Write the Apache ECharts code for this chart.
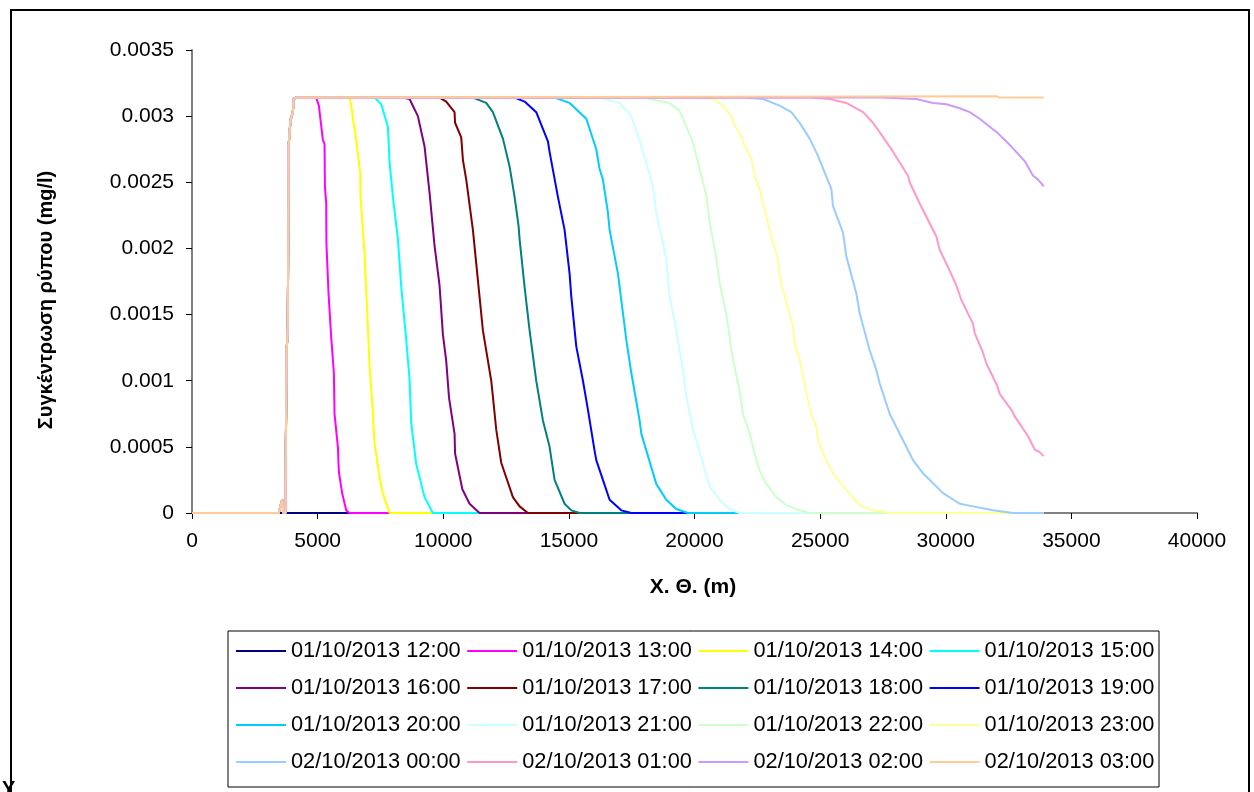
<!DOCTYPE html>
<html>
<head>
<meta charset="utf-8">
<script src="https://cdn.jsdelivr.net/npm/echarts@6/dist/echarts.min.js"></script>
<style>
html,body{margin:0;padding:0;background:#fff;}
#chart{width:1254px;height:792px;}
</style>
</head>
<body>
<div id="chart"></div>
<script>
// ---- Data ----
const seriesNames = [
  "01/10/2013 12:00","01/10/2013 13:00","01/10/2013 14:00","01/10/2013 15:00",
  "01/10/2013 16:00","01/10/2013 17:00","01/10/2013 18:00","01/10/2013 19:00",
  "01/10/2013 20:00","01/10/2013 21:00","01/10/2013 22:00","01/10/2013 23:00",
  "02/10/2013 00:00","02/10/2013 01:00","02/10/2013 02:00","02/10/2013 03:00"
];
const palette = ["#000080","#FF00FF","#FFFF00","#00FFFF","#800080","#800000","#008080","#0000FF",
  "#00CCFF","#CCFFFF","#CCFFCC","#FFFF99","#99CCFF","#FF99CC","#CC99FF","#FFCC99"];

const xEnd = 33900;
// common rising front (x in m, concentration in mg/l)
const leadingEdge = [[0,0],[3450,0],[3590,0.0001],[3640,0],[3720,0],[3760,0.0012],[3814,0.0014],[3842,0.00277],[3921,0.00297],[4013,0.00303],[4053,0.00313],[4148,0.00314]];

const s1200 = [[0,0],[xEnd,0]];
const s1300 = [[4943,0.00314],[5049,0.00308],[5208,0.00282],[5275,0.00279],[5290,0.00247],[5341,0.00234],[5350,0.00204],[5434,0.00166],[5540,0.00133],[5646,0.00106],[5673,0.00075],[5806,0.0005],[5846,0.00031],[5979,0.000147],[6137,0.00002],[6270,0]];
const s1400 = [[6137,0.00314],[6297,0.00313],[6430,0.00295],[6536,0.00282],[6695,0.00257],[6708,0.00239],[6867,0.00196],[7000,0.00141],[7066,0.00111],[7173,0.00083],[7265,0.00053],[7464,0.00027],[7597,0.000147],[7863,0]];
const s1500 = [[7265,0.00314],[7531,0.00309],[7797,0.00292],[7863,0.00265],[7996,0.00239],[8195,0.00207],[8328,0.00171],[8526,0.00131],[8659,0.00101],[8725,0.00068],[8924,0.00037],[9256,0.00012],[9588,0]];
const s1600 = [[8393,0.00314],[8659,0.00313],[8990,0.003],[9256,0.00277],[9455,0.00242],[9654,0.00202],[9853,0.00172],[9986,0.00135],[10118,0.00115],[10230,0.00087],[10450,0.0006],[10470,0.00045],[10760,0.00018],[11047,0.00007],[11445,0]];
const s1700 = [[9588,0.00314],[9853,0.00314],[10118,0.00311],[10450,0.00303],[10470,0.00295],[10716,0.00284],[10782,0.00267],[10915,0.00252],[11180,0.00214],[11379,0.00176],[11578,0.00138],[11910,0.001],[11976,0.00088],[12109,0.00063],[12308,0.00038],[12772,0.00012],[13038,0.00005],[13370,0]];
const s1800 = [[11180,0.00314],[11711,0.0031],[11976,0.00303],[12375,0.00283],[12640,0.00262],[12839,0.00239],[12998,0.00217],[13038,0.00207],[13237,0.00171],[13436,0.00138],[13701,0.001],[13966,0.0007],[14232,0.0005],[14431,0.00025],[14829,0.00007],[15095,0.00002],[15427,0]];
const s1900 = [[12839,0.00314],[13237,0.00311],[13701,0.00303],[14166,0.00281],[14232,0.00273],[14564,0.00239],[14829,0.00214],[15028,0.00181],[15095,0.00164],[15294,0.00126],[15560,0.001],[15759,0.00078],[16024,0.00047],[16090,0.0004],[16355,0.00025],[16621,0.0001],[17085,0.00002],[17483,0]];
const s2000 = [[14431,0.00314],[15028,0.0031],[15693,0.00298],[16090,0.00275],[16223,0.0026],[16355,0.00252],[16554,0.00227],[16621,0.00214],[16953,0.00181],[17152,0.00151],[17285,0.00131],[17484,0.00106],[17815,0.0007],[17882,0.0006],[18478,0.00022],[18876,0.0001],[19275,0.00003],[19739,0]];
const s2100 = [[16223,0.00314],[17019,0.0031],[17484,0.003],[17815,0.00282],[18346,0.00247],[18478,0.00227],[18876,0.00192],[19009,0.00164],[19275,0.00138],[19540,0.00108],[19673,0.00088],[19938,0.00063],[20071,0.00055],[20602,0.0002],[21000,0.0001],[21398,0.00003],[21796,0]];
const s2200 = [[17948,0.00314],[19009,0.0031],[19408,0.00304],[19673,0.00292],[19938,0.0028],[20204,0.0026],[20469,0.0024],[20602,0.0022],[20867,0.00193],[21000,0.00174],[21265,0.0015],[21531,0.00116],[21796,0.00092],[21929,0.00075],[22194,0.0006],[22393,0.00045],[22593,0.00032],[22858,0.00022],[23256,0.00012],[23654,0.00006],[24185,0.00002],[24583,0]];
const s2300 = [[20071,0.00314],[20735,0.00313],[21132,0.00308],[21465,0.003],[21597,0.00293],[21863,0.00285],[21929,0.0028],[22265,0.00268],[22393,0.00255],[22593,0.00245],[22791,0.00229],[22991,0.00214],[23322,0.00192],[23389,0.00179],[23654,0.00159],[23920,0.00141],[23986,0.00128],[24185,0.00116],[24450,0.00091],[24649,0.00075],[24849,0.00065],[24915,0.00055],[25246,0.0004],[25512,0.0003],[26043,0.00017],[26574,0.00006],[27104,0.00002],[27768,0]];
const s0000 = [[21929,0.00314],[22725,0.00313],[23389,0.00308],[23854,0.00303],[24185,0.00295],[24583,0.00283],[24915,0.0027],[25445,0.00245],[25512,0.00232],[25910,0.00212],[26043,0.00194],[26441,0.00166],[26574,0.00151],[26972,0.00123],[27237,0.00108],[27370,0.00098],[27768,0.00075],[28299,0.00055],[28697,0.0004],[29095,0.0003],[29891,0.00015],[30555,0.00007],[31085,0.00005],[31882,0.00002],[32678,0]];
const s0100 = [[24583,0.00314],[25379,0.00313],[26043,0.0031],[26706,0.00303],[27104,0.00295],[27436,0.00286],[27768,0.00277],[28166,0.00265],[28498,0.00255],[28564,0.0025],[28962,0.00234],[29228,0.00224],[29626,0.00209],[29758,0.00199],[30090,0.00186],[30422,0.00172],[30621,0.00161],[31085,0.00143],[31152,0.00136],[31484,0.00121],[31616,0.00113],[32050,0.00096],[32147,0.0009],[32612,0.00078],[32745,0.00073],[33276,0.00058],[33541,0.00048],[33740,0.00046],[33900,0.00043]];
const s0200 = [[27436,0.00314],[28829,0.00313],[29493,0.0031],[30024,0.00309],[30555,0.00306],[30953,0.00303],[31351,0.00298],[31749,0.00292],[32081,0.00287],[32612,0.00277],[33143,0.00266],[33475,0.00255],[33674,0.00252],[33900,0.00247]];
const s0300 = [[4148,0.00315],[32015,0.00315],[32147,0.00314],[33900,0.00314]];

const xTickLabels = ["0","5000","10000","15000","20000","25000","30000","35000","40000"];
const yTickLabels = ["0","0.0005","0.001","0.0015","0.002","0.0025","0.003","0.0035"];

// ---- Build series ----
const tails = [null,s1300,s1400,s1500,s1600,s1700,s1800,s1900,s2000,s2100,s2200,s2300,s0000,s0100,s0200,s0300];
const seriesData = tails.map((t, i) => {
  if (i === 0) return s1200;
  let d = leadingEdge.concat(t);
  const last = d[d.length - 1];
  if (last[0] < xEnd) d = d.concat([[xEnd, 0]]);
  return d;
});

const FONT = "'Liberation Sans', Arial, sans-serif";
const chart = echarts.init(document.getElementById('chart'), null, {renderer: 'canvas'});

const legendRows = [651, 688, 725, 762];
const legends = legendRows.map((cy, r) => ({
  data: seriesNames.slice(r * 4, r * 4 + 4),
  orient: 'horizontal',
  left: 236,
  top: cy - 11,
  padding: 0,
  itemGap: 6.5,
  itemWidth: 50,
  itemHeight: 2,
  icon: 'rect',
  selectedMode: false,
  textStyle: {fontFamily: FONT, fontSize: 21.8, color: '#000', lineHeight: 22}
}));

chart.setOption({
  animation: false,
  backgroundColor: '#fff',
  grid: {left: 192, right: 57, top: 50, bottom: 279, containLabel: false},
  legend: legends,
  xAxis: {
    type: 'value', min: 0, max: 40000, interval: 5000,
    axisLine: {show: true, lineStyle: {color: '#808080', width: 2}},
    axisTick: {show: true, inside: false, length: 6, lineStyle: {color: '#000', width: 1}},
    axisLabel: {margin: 18, color: '#000', fontFamily: FONT, fontSize: 21,
      formatter: (v) => { const i = Math.round(v / 5000); return xTickLabels[i] !== undefined ? xTickLabels[i] : String(v); }},
    splitLine: {show: false}
  },
  yAxis: {
    type: 'value', min: 0, max: 0.0035, interval: 0.0005,
    axisLine: {show: true, lineStyle: {color: '#808080', width: 2}},
    axisTick: {show: true, inside: false, length: 6, lineStyle: {color: '#000', width: 1}},
    axisLabel: {margin: 18, color: '#000', fontFamily: FONT, fontSize: 21,
      formatter: (v) => { const i = Math.round(v / 0.0005); return yTickLabels[i] !== undefined ? yTickLabels[i] : String(v); }},
    splitLine: {show: false}
  },
  series: seriesNames.map((n, i) => ({
    name: n,
    type: 'line',
    data: seriesData[i],
    symbol: 'none',
    showSymbol: false,
    color: palette[i],
    lineStyle: {color: palette[i], width: 2},
    itemStyle: {color: palette[i]},
    z: 2
  })),
  graphic: [
    {type: 'rect', shape: {x: 11, y: 10, width: 1238, height: 800}, style: {fill: 'none', stroke: '#000', lineWidth: 2}, silent: true},
    {type: 'rect', shape: {x: 228, y: 631, width: 931, height: 156}, style: {fill: 'none', stroke: '#000', lineWidth: 1}, silent: true},
    {type: 'text', x: 46, y: 300, rotation: Math.PI / 2,
      style: {text: 'Συγκέντρωση ρύπου (mg/l)', fontFamily: FONT, fontSize: 20, fontWeight: 'bold', fill: '#000', textAlign: 'center', textVerticalAlign: 'middle'}},
    {type: 'text', x: 693, y: 587,
      style: {text: 'Χ. Θ. (m)', fontFamily: FONT, fontSize: 21, fontWeight: 'bold', fill: '#000', textAlign: 'center', textVerticalAlign: 'middle'}},
    {type: 'text', x: 2, y: 779,
      style: {text: 'Υ', fontFamily: FONT, fontSize: 20, fontWeight: 'bold', fill: '#000', textAlign: 'left', textVerticalAlign: 'top'}}
  ]
});
</script>
</body>
</html>
